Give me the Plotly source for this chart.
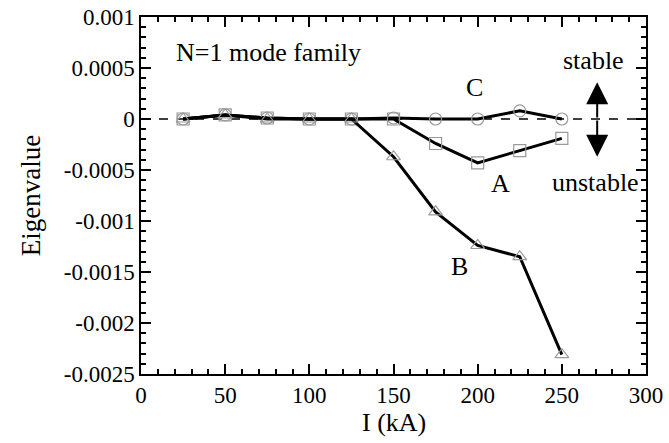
import plotly.graph_objects as go

current_kA = [25, 50, 75, 100, 125, 150, 175, 200, 225, 250]
eig_A = [0.0, 0.00004, 0.00001, 0.0, 0.0, 0.0, -0.00024, -0.00043, -0.00031, -0.00019]
eig_B = [0.0, 0.00004, 0.0, 0.0, 0.0, -0.00037, -0.00091, -0.00124, -0.00135, -0.00231]
eig_C = [0.0, 0.00004, 0.00001, 0.0, 0.0, 0.00001, 0.0, 0.0, 0.00008, 0.0]

y_ticks = [0.001, 0.0005, 0, -0.0005, -0.001, -0.0015, -0.002, -0.0025]
y_ticktext = ["0.001", "0.0005", "0", "-0.0005", "-0.001", "-0.0015", "-0.002", "-0.0025"]
x_ticks = [0, 50, 100, 150, 200, 250, 300]

FONT = "Liberation Serif"
MARK = "#9a9a9a"

fig = go.Figure()
series = [(eig_C, "circle-open"), (eig_A, "square-open"), (eig_B, "triangle-up-open")]
for vals, sym in series:
    fig.add_trace(go.Scatter(
        x=current_kA, y=vals, mode="lines+markers",
        line=dict(color="black", width=3),
        marker=dict(symbol=sym, size=12, color=MARK, line=dict(color=MARK, width=1.2)),
        showlegend=False, cliponaxis=False))

fig.add_shape(type="line", xref="x domain", yref="y", x0=0, x1=1, y0=0, y1=0,
              line=dict(color="black", width=1.5, dash="dash"), layer="below")

texts = [("N=1 mode family", 76, 0.00065),
         ("C", 198.4, 0.00031),
         ("A", 213.3, -0.00063),
         ("B", 189.5, -0.00145),
         ("stable", 269.1, 0.00057),
         ("unstable", 269.7, -0.00062)]
for t, x, y in texts:
    fig.add_annotation(x=x, y=y, text=t, showarrow=False,
                       font=dict(family=FONT, size=26, color="black"))

for tip in (0.00036, -0.00037):
    fig.add_annotation(x=271, y=tip, ax=271, ay=0, axref="x", ayref="y",
                       text="", showarrow=True, arrowhead=2, arrowsize=2.2,
                       arrowwidth=2, arrowcolor="black")

# x-axis title
fig.add_annotation(x=0.5, y=-0.137, xref="paper", yref="paper", text="I (kA)",
                   showarrow=False, yanchor="middle",
                   font=dict(family=FONT, size=26, color="black"))

axis_common = dict(showgrid=False, zeroline=False, showline=True, linecolor="black",
                   linewidth=1.5, ticks="inside", ticklen=10, tickwidth=1.5,
                   tickcolor="black", mirror="allticks", automargin=False,
                   tickfont=dict(family=FONT, size=23, color="black"))

fig.update_xaxes(range=[0, 300], tickvals=x_ticks,
                 minor=dict(ticks="inside", dtick=10, ticklen=5, tickwidth=1.5, tickcolor="black"),
                 **axis_common)
fig.update_yaxes(range=[-0.0025, 0.001], tickvals=y_ticks, ticktext=y_ticktext,
                 title=dict(text="Eigenvalue", font=dict(family=FONT, size=27, color="black")),
                 minor=dict(ticks="inside", dtick=0.0001, tick0=0, ticklen=5, tickwidth=1.5, tickcolor="black"),
                 **axis_common)

fig.update_layout(width=669, height=443, margin=dict(l=141, r=23, t=17, b=69),
                  plot_bgcolor="white", paper_bgcolor="white",
                  font=dict(family=FONT, color="black"))

fig.write_html("out.html")
